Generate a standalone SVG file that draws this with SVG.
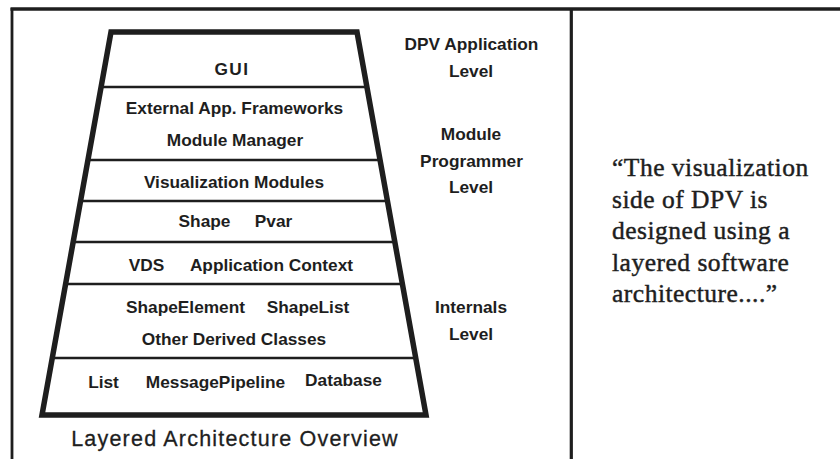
<svg xmlns="http://www.w3.org/2000/svg" width="840" height="459" viewBox="0 0 840 459">
<style>
.frame{stroke:#1e1e1e;fill:none;stroke-linecap:butt}
.lbl{font-family:"Liberation Sans",Arial,sans-serif;font-weight:bold;font-size:17.3px;fill:#1e1e1e;text-anchor:middle}
.div{stroke:#1e1e1e;stroke-width:2.6;fill:none}
.title{font-family:"Liberation Sans",Arial,sans-serif;font-size:21.5px;letter-spacing:1.2px;fill:#1e1e1e;stroke:#1e1e1e;stroke-width:0.3;text-anchor:middle}
.quote{font-family:"Liberation Serif","Times New Roman",serif;font-size:25.5px;letter-spacing:0.5px;fill:#1e1e1e;stroke:#1e1e1e;stroke-width:0.45}
</style>
<rect width="840" height="459" fill="#fff"/>
<g id="frame">
<line class="frame" x1="10.5" y1="9" x2="840" y2="9" stroke-width="3.5"/>
<line class="frame" x1="12" y1="8" x2="12" y2="459" stroke-width="2.8"/>
<line class="frame" x1="571.3" y1="8" x2="571.3" y2="459" stroke-width="3.2"/>
</g>
<g id="pyramid">
<polygon points="111,32 357,32 426,415 42,415" fill="none" stroke="#1e1e1e" stroke-width="5.5" stroke-linejoin="miter"/>
</g>
<g id="connectors">
<line class="div" x1="101" y1="87" x2="367" y2="87"/>
<line class="div" x1="88" y1="160" x2="380" y2="160"/>
<line class="div" x1="80.5" y1="201" x2="387.5" y2="201"/>
<line class="div" x1="73" y1="242" x2="395" y2="242"/>
<line class="div" x1="65.5" y1="284" x2="402.5" y2="284"/>
<line class="div" x1="52" y1="358" x2="416" y2="358"/>
</g>
<g id="layer-gui">
<text class="lbl" x="232" y="75" letter-spacing="1.5">GUI</text>
</g>
<g id="layer-frameworks">
<text class="lbl" x="234.5" y="114">External App. Frameworks</text>
<text class="lbl" x="235" y="146">Module Manager</text>
</g>
<g id="layer-vis">
<text class="lbl" x="234" y="188">Visualization Modules</text>
</g>
<g id="layer-shape">
<text class="lbl" x="204.5" y="227">Shape</text>
<text class="lbl" x="273.5" y="227">Pvar</text>
</g>
<g id="layer-vds">
<text class="lbl" x="146.5" y="271">VDS</text>
<text class="lbl" x="271.5" y="271">Application Context</text>
</g>
<g id="layer-elements">
<text class="lbl" x="185.5" y="313">ShapeElement</text>
<text class="lbl" x="308" y="313">ShapeList</text>
<text class="lbl" x="234" y="345">Other Derived Classes</text>
</g>
<g id="layer-base">
<text class="lbl" x="103.5" y="388">List</text>
<text class="lbl" x="215.5" y="388">MessagePipeline</text>
<text class="lbl" x="343.5" y="386">Database</text>
</g>
<g id="title">
<text class="title" x="235" y="446">Layered Architecture Overview</text>
</g>
<g id="level-app">
<text class="lbl" x="471.5" y="50">DPV Application</text>
<text class="lbl" x="471" y="77">Level</text>
</g>
<g id="level-module">
<text class="lbl" x="471" y="140">Module</text>
<text class="lbl" x="471.5" y="167">Programmer</text>
<text class="lbl" x="471" y="193">Level</text>
</g>
<g id="level-internals">
<text class="lbl" x="471" y="313">Internals</text>
<text class="lbl" x="471" y="340">Level</text>
</g>
<g id="quote">
<text class="quote" x="612" y="176">“The visualization</text>
<text class="quote" x="612" y="207.5">side of DPV is</text>
<text class="quote" x="612" y="239">designed using a</text>
<text class="quote" x="612" y="270.5">layered software</text>
<text class="quote" x="612" y="302">architecture....”</text>
</g>
</svg>
